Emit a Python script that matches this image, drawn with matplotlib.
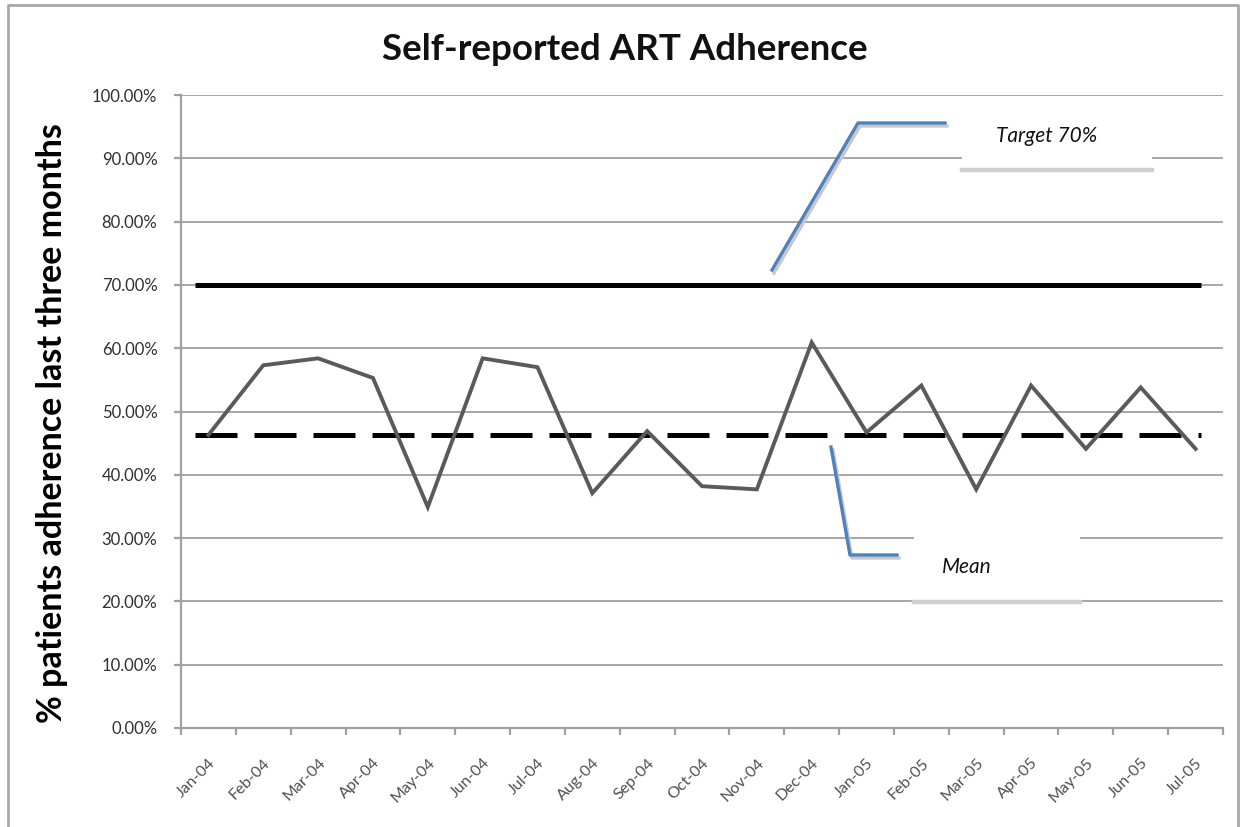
import matplotlib.pyplot as plt
import numpy as np
from matplotlib.lines import Line2D
from matplotlib.patches import Rectangle

plt.rcParams['font.family'] = ['Lato', 'DejaVu Sans']

months = ["Jan-04", "Feb-04", "Mar-04", "Apr-04", "May-04", "Jun-04", "Jul-04",
          "Aug-04", "Sep-04", "Oct-04", "Nov-04", "Dec-04", "Jan-05", "Feb-05",
          "Mar-05", "Apr-05", "May-05", "Jun-05", "Jul-05"]
adherence = [46.3, 57.3, 58.4, 55.3, 34.9, 58.4, 57.0, 37.1, 46.9, 38.2,
             37.7, 60.9, 46.7, 54.1, 37.7, 54.1, 44.1, 53.8, 44.1]
target = 70.0
mean_level = 46.3
yticks = np.arange(0, 101, 10)

fig = plt.figure(figsize=(12.45, 8.27), dpi=100)
ax = fig.add_axes([181 / 1245, 1 - 728 / 827, 1042 / 1245, 633 / 827])

x = np.arange(len(months))
ax.set_xlim(-0.5, len(months) - 0.5)
ax.set_ylim(0, 100)

# grid and axes, Excel style
for v in yticks[1:]:
    ax.axhline(v, color="#a6a6a6", lw=1.4, zorder=1)
for side in ["top", "right"]:
    ax.spines[side].set_visible(False)
for side in ["left", "bottom"]:
    ax.spines[side].set_color("#a0a0a0")
    ax.spines[side].set_linewidth(1.6)

ax.set_yticks(yticks)
ax.set_yticklabels([f"{v:.2f}%" for v in yticks], fontsize=12, color="#303030")
ax.set_xticks(np.arange(len(months) + 1) - 0.5, minor=False)
ax.set_xticklabels([])
ax.set_xticks(x, minor=True)
ax.set_xticklabels(months, minor=True, rotation=45, ha="right", va="top",
                   rotation_mode="anchor", fontsize=11.5, color="#505050")
ax.tick_params(axis="x", which="major", direction="out", length=5, width=1.6, color="#a0a0a0")
ax.tick_params(axis="x", which="minor", length=0, pad=20)
ax.tick_params(axis="y", direction="out", length=5, width=1.6, color="#a0a0a0", pad=12)

# data, target and mean lines
span = [-0.25, len(months) - 0.9]
ax.plot(span, [target, target], color="black", lw=3.6, zorder=3, solid_capstyle="butt")
ax.plot(span, [mean_level, mean_level], color="black", lw=3.6, zorder=4,
        dashes=(8.4, 3.4))
ax.plot(x, adherence, color="#5a5a5a", lw=2.8, zorder=5, solid_joinstyle="miter")

ax.set_ylabel("% patients adherence last three months", fontsize=24.5, fontweight="bold")
ax.yaxis.set_label_coords(-0.108, 0.482)
fig.text(0.502, 1 - 49 / 827, "Self-reported ART Adherence", ha="center", va="center",
         fontsize=26.5, fontweight="bold", color="#111111")


def px(xp, yp):
    # figure pixel position (from top-left) to figure fraction
    return xp / 1245, 1 - yp / 827


def callout(points, box, label, text_pos):
    xs = [px(*p)[0] for p in points]
    ys = [px(*p)[1] for p in points]
    sx = [v + 2 / 1245 for v in xs]
    sy = [v - 3 / 827 for v in ys]
    fig.add_artist(Line2D(sx, sy, color="#c8c8c8", lw=2.4, zorder=6))
    fig.add_artist(Line2D(xs, ys, color="#4f81bd", lw=2.4, zorder=7))
    x0, y0, x1, y1 = box
    bx, by = px(x0, y1)
    fig.add_artist(Rectangle((bx, by), (x1 - x0) / 1245, (y1 - y0) / 827,
                             facecolor="white", edgecolor="none", zorder=6))
    fig.add_artist(Line2D([bx, x1 / 1245], [by, by], color="#cfcfcf", lw=3.2, zorder=7))
    tx, ty = px(*text_pos)
    fig.text(tx, ty, label, ha="center", va="center", fontsize=15, style="italic",
             fontweight="normal", color="#111111", zorder=8)


callout([(772, 270), (858, 123), (945, 123)], (962, 100, 1152, 170), "Target 70%", (1047, 136))
callout([(831, 447), (850, 555), (897, 555)], (914, 532, 1080, 602), "Mean", (967, 567))

# outer frame of the chart area
fig.add_artist(Line2D([8 / 1245, 8 / 1245, 1238 / 1245, 1238 / 1245],
                      [0, 1 - 5 / 827, 1 - 5 / 827, 0], color="#a8a8a8", lw=2))

fig.savefig("out.png", dpi=100)
